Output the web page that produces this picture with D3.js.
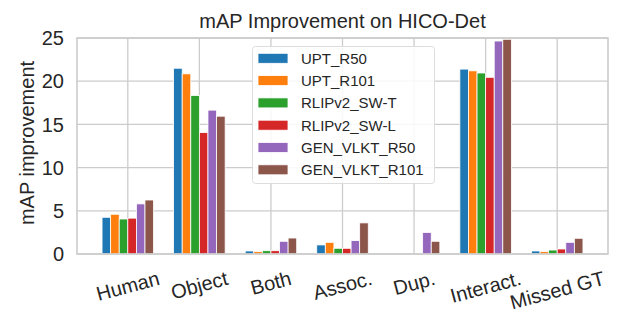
<!DOCTYPE html>
<html>
<head>
<meta charset="utf-8">
<script src="https://cdn.jsdelivr.net/npm/d3@7"></script>
<style>
  body { margin: 0; background: #fff; }
  text { font-family: "Liberation Sans", Arial, sans-serif; fill: #262626; }
</style>
</head>
<body>
<svg id="chart" width="623" height="327"></svg>
<script>
let width = 623, height = 327;

let categories = ["Human", "Object", "Both", "Assoc.", "Dup.", "Interact.", "Missed GT"];
let series = ["UPT_R50", "UPT_R101", "RLIPv2_SW-T", "RLIPv2_SW-L", "GEN_VLKT_R50", "GEN_VLKT_R101"];
let colors = ["#1f77b4", "#ff7f0e", "#2ca02c", "#d62728", "#9467bd", "#8c564b"];

// one array per series, in category order
let upt_r50       = [4.25, 21.5, 0.35, 1.05, 0, 21.4, 0.35];
let upt_r101      = [4.6, 20.85, 0.27, 1.35, 0, 21.2, 0.27];
let rlip_swt      = [4.05, 18.35, 0.38, 0.66, 0, 20.95, 0.46];
let rlip_swl      = [4.15, 14.05, 0.38, 0.66, 0, 20.45, 0.58];
let gen_vlkt_r50  = [5.8, 16.65, 1.47, 1.55, 2.5, 24.65, 1.35];
let gen_vlkt_r101 = [6.25, 15.95, 1.85, 3.6, 1.47, 24.85, 1.82];
let values = [upt_r50, upt_r101, rlip_swt, rlip_swl, gen_vlkt_r50, gen_vlkt_r101];

let yTicks = [0, 5, 10, 15, 20, 25];

let pLeft = 77, pRight = 608, pTop = 38, pBottom = 254;

let svg = d3.select("#chart");

let x = d3.scaleBand()
    .domain(categories)
    .range([pLeft, pRight])
    .paddingInner(0.28)
    .paddingOuter(0.35);

let xs = d3.scaleBand()
    .domain(series)
    .range([0, x.bandwidth()]);

let y = d3.scaleLinear()
    .domain([0, 25])
    .range([pBottom, pTop]);

// grid
svg.append("g")
    .selectAll("line")
    .data(yTicks)
    .enter().append("line")
    .attr("x1", pLeft).attr("x2", pRight)
    .attr("y1", d => y(d)).attr("y2", d => y(d))
    .attr("stroke", "#cccccc").attr("stroke-width", 1.3);

svg.append("g")
    .selectAll("line")
    .data(categories)
    .enter().append("line")
    .attr("x1", d => x(d) + x.bandwidth() / 2).attr("x2", d => x(d) + x.bandwidth() / 2)
    .attr("y1", pTop).attr("y2", pBottom)
    .attr("stroke", "#cccccc").attr("stroke-width", 1.3);

// bars
let rows = [];
series.forEach((s, j) => {
    categories.forEach((c, i) => {
        rows.push({cat: c, ser: s, v: values[j][i], color: colors[j]});
    });
});

svg.append("g")
    .selectAll("rect")
    .data(rows)
    .enter().append("rect")
    .attr("x", d => x(d.cat) + xs(d.ser))
    .attr("width", xs.bandwidth())
    .attr("y", d => y(d.v))
    .attr("height", d => y(0) - y(d.v))
    .attr("fill", d => d.color)
    .attr("stroke", "#fff")
    .attr("stroke-width", 0.8);

// frame
svg.append("rect")
    .attr("x", pLeft).attr("y", pTop)
    .attr("width", pRight - pLeft).attr("height", pBottom - pTop)
    .attr("fill", "none")
    .attr("stroke", "#cccccc").attr("stroke-width", 1.6);

// y tick labels
svg.append("g")
    .selectAll("text")
    .data(yTicks)
    .enter().append("text")
    .attr("x", 64)
    .attr("y", d => y(d))
    .attr("dy", "0.36em")
    .attr("text-anchor", "end")
    .style("font-size", "20px")
    .text(d => d);

// x tick labels, rotated 15 deg, bbox top fixed under axis
let ang = 15 * Math.PI / 180;
svg.append("g")
    .selectAll("text")
    .data(categories)
    .enter().append("text")
    .attr("text-anchor", "middle")
    .attr("dominant-baseline", "central")
    .style("font-size", "20px")
    .text(d => d)
    .each(function(d) {
        let L = this.getComputedTextLength();
        let cx = x(d) + x.bandwidth() / 2;
        let cy = 268 + (L * Math.sin(ang) + 20 * Math.cos(ang)) / 2;
        d3.select(this)
            .attr("x", cx).attr("y", cy)
            .attr("transform", "rotate(-15," + cx + "," + cy + ")");
    });

// y label
svg.append("text")
    .attr("transform", "translate(27," + ((pTop + pBottom) / 2 - 3) + ") rotate(-90)")
    .attr("text-anchor", "middle")
    .attr("dominant-baseline", "central")
    .style("font-size", "20px")
    .text("mAP improvement");

// title
svg.append("text")
    .attr("x", (pLeft + pRight) / 2)
    .attr("y", 28)
    .attr("text-anchor", "middle")
    .style("font-size", "20px")
    .text("mAP Improvement on HICO-Det");

// legend
let legend = svg.append("g");
legend.append("rect")
    .attr("x", 252.5).attr("y", 46.5)
    .attr("width", 182).attr("height", 137)
    .attr("rx", 3)
    .attr("fill", "#fff").attr("fill-opacity", 0.85)
    .attr("stroke", "#dddddd").attr("stroke-width", 1);

let item = legend.selectAll("g.item")
    .data(series)
    .enter().append("g")
    .attr("class", "item")
    .attr("transform", (d, i) => "translate(0," + (58.3 + i * 22.3) + ")");

item.append("rect")
    .attr("x", 258).attr("y", -5)
    .attr("width", 30).attr("height", 10)
    .attr("fill", (d, i) => colors[i])
    .attr("stroke", "#fff").attr("stroke-width", 0.8);

item.append("text")
    .attr("x", 301)
    .attr("dominant-baseline", "central")
    .style("font-size", "15px")
    .text(d => d);
</script>
</body>
</html>
